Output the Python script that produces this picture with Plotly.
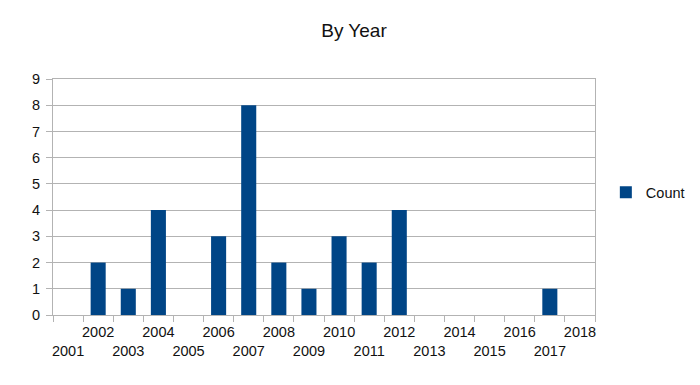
import plotly.graph_objects as go

years = [str(y) for y in range(2001, 2019)]
counts = [0, 2, 1, 4, 0, 3, 8, 2, 1, 3, 2, 4, 0, 0, 0, 0, 1, 0]
tick_labels = [y if int(y) % 2 == 0 else "<br>" + y for y in years]
y_ticks = list(range(0, 10))

fig = go.Figure()
fig.add_trace(go.Bar(x=years, y=counts, name="Count", marker_color="#004586",
                     marker_line_width=0))

fig.update_layout(
    width=692, height=377,
    paper_bgcolor="white", plot_bgcolor="white",
    font=dict(family="Liberation Sans, Arial, sans-serif", size=14.5, color="#111"),
    title=dict(text="By Year", x=0.5, xanchor="center", y=0.942, yanchor="middle",
               font=dict(size=19, color="#111")),
    margin=dict(l=45, r=105, t=71, b=70, autoexpand=False),
    bargap=0.5,
    showlegend=True,
    legend=dict(x=1.02, xanchor="left", y=0.52, yanchor="middle",
                font=dict(size=14.5), bgcolor="rgba(0,0,0,0)"),
    xaxis=dict(type="category", tickvals=years, ticktext=tick_labels,
               tickson="boundaries", ticks="outside", ticklen=6, tickcolor="#b3b3b3",
               showline=True, linecolor="#b3b3b3", linewidth=1, mirror=True,
               showgrid=False, tickangle=0, ticklabelstandoff=4),
    yaxis=dict(range=[0, 9], tickvals=y_ticks, ticks="outside", ticklen=6,
               tickcolor="#b3b3b3", showline=True, linecolor="#b3b3b3", linewidth=1,
               mirror=True, showgrid=True, gridcolor="#b3b3b3", gridwidth=1,
               zeroline=False, ticklabelstandoff=3),
)

fig.write_html("out.html")
